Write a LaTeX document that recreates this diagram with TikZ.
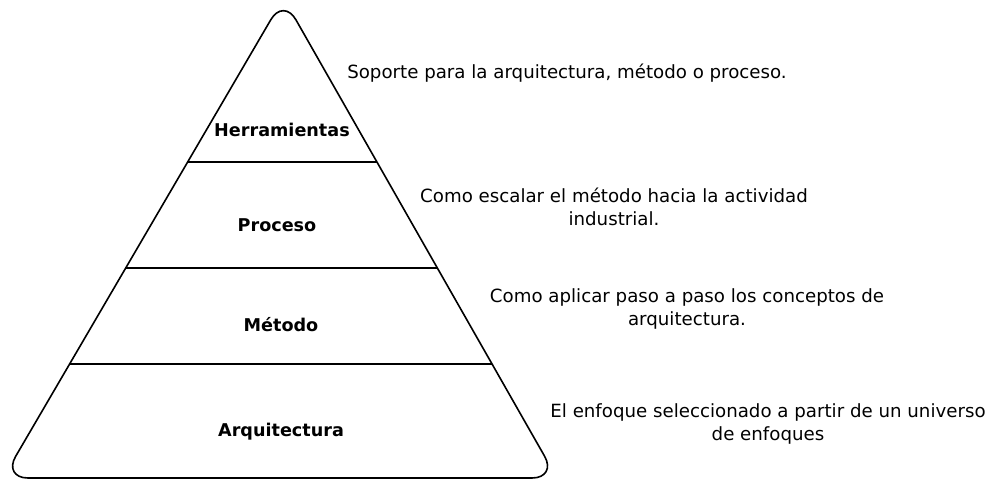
\documentclass[tikz,border=0pt]{standalone}
\usepackage{fontspec}
\setmainfont{DejaVu Sans}
\usetikzlibrary{calc}

\begin{document}
\begin{tikzpicture}[x=1pt,y=-1pt,
    level/.style={font=\bfseries\fontsize{17.6}{21}\selectfont},
    note/.style={align=center,font=\fontsize{18.2}{22.5}\selectfont}]
    \useasboundingbox (0,0) rectangle (999,480);
    %definitions
    \coordinate (T) at (283.5,-2);
    \coordinate (L) at (3,478);
    \coordinate (R) at (557,478);
    \foreach \t/\n in {0.3417/a,0.5625/b,0.7625/c}{
        \coordinate (\n L) at ($(T)!\t!(L)$);
        \coordinate (\n R) at ($(T)!\t!(R)$);
    }
    %drawing
    \draw[line width=1.6pt,rounded corners=25pt] (T) -- (L) -- (R) -- cycle;
    \foreach \n in {a,b,c}
        \draw[line width=1.6pt] (\n L) -- (\n R);
    %label
    \node[level] (herr) at (282,130) {Herramientas};
    \node[level] (proc) at (277,225) {Proceso};
    \node[level] (meto) at (281,325) {Método};
    \node[level] (arqu) at (281,432) {Arquitectura};
    \node[note] (soporte) at (567,73) {Soporte para la arquitectura, método o proceso.};
    \node[note] (escalar) at (614,207) {Como escalar el método hacia la actividad\\industrial.};
    \node[note] (aplicar) at (687,309) {Como aplicar paso a paso los conceptos de\\arquitectura.};
    \node[note] (enfoque) at (768,424) {El enfoque seleccionado a partir de un universo\\de enfoques};
\end{tikzpicture}
\end{document}
